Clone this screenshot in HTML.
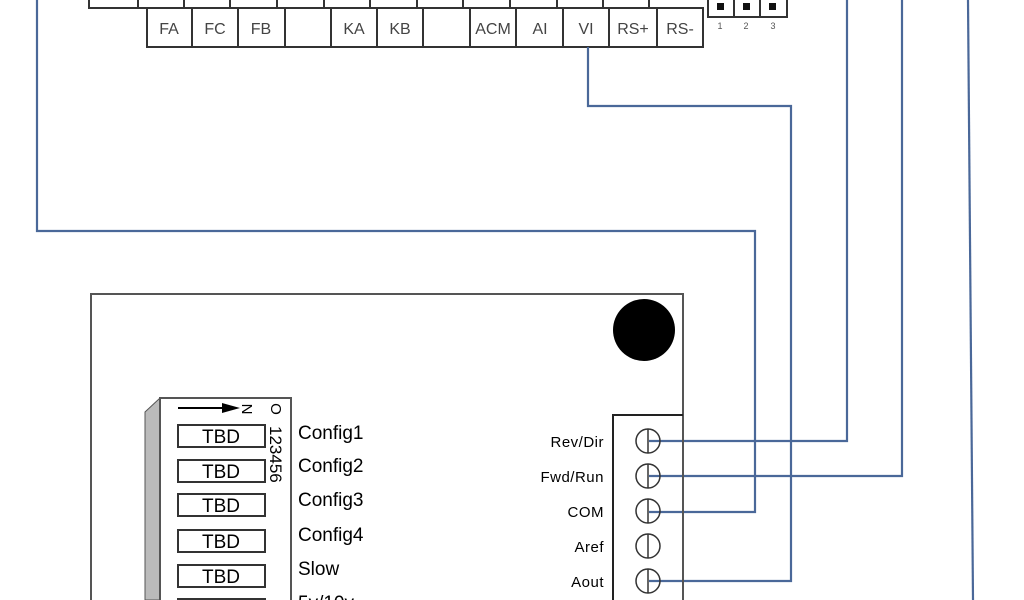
<!DOCTYPE html>
<html><head><meta charset="utf-8"><style>
html,body{margin:0;padding:0;background:#fff;overflow:hidden}
svg{display:block}
text{font-family:"Liberation Sans",sans-serif}
</style></head><body>
<svg width="1024" height="600" viewBox="0 0 1024 600" xmlns="http://www.w3.org/2000/svg">
<rect width="1024" height="600" fill="#fff"/>
<!-- top upper row -->
<g stroke="#333" stroke-width="2" fill="none">
<path d="M89 -2 V8 H649 V-2"/>
<path d="M138 0V8M184 0V8M230 0V8M277 0V8M324 0V8M370 0V8M417 0V8M463 0V8M510 0V8M557 0V8M603 0V8"/>
<rect x="147" y="8" width="556" height="39"/>
<path d="M192 8V47M238 8V47M285 8V47M331 8V47M377 8V47M423 8V47M470 8V47M516 8V47M563 8V47M609 8V47M657 8V47"/>
<!-- jumper -->
<path d="M708 -2V17H787V-2M734 0V17M760 0V17"/>
</g>
<g fill="#111"><rect x="717" y="3" width="7" height="7"/><rect x="743" y="3" width="7" height="7"/><rect x="769" y="3" width="7" height="7"/></g>
<g font-size="9" fill="#555" text-anchor="middle"><text x="720" y="29">1</text><text x="746" y="29">2</text><text x="773" y="29">3</text></g>
<g font-size="16" fill="#444" text-anchor="middle">
<text x="169" y="34">FA</text><text x="215" y="34">FC</text><text x="261" y="34">FB</text>
<text x="354" y="34">KA</text><text x="400" y="34">KB</text><text x="493" y="34">ACM</text>
<text x="540" y="34">AI</text><text x="586" y="34">VI</text><text x="633" y="34">RS+</text><text x="680" y="34">RS-</text>
</g>
<!-- wires -->
<g stroke="#4a6899" stroke-width="2.2" fill="none">
<path d="M37 0V231H755V512H649"/>
<path d="M588 47V106H791V581H649"/>
<path d="M847 0V441H649"/>
<path d="M902 0V476H649"/>
<path d="M968 0L973 600"/>
</g>
<!-- board -->
<path d="M91 600V294H683V600" stroke="#555" stroke-width="2" fill="none"/>
<circle cx="644" cy="330" r="31" fill="#000"/>
<!-- dip switch -->
<path d="M145 412L160 398V600H145Z" fill="#bbb" stroke="#555" stroke-width="1"/>
<rect x="160" y="398" width="131" height="210" fill="#fff" stroke="#555" stroke-width="2"/>
<path d="M178 408H225" stroke="#000" stroke-width="2"/>
<path d="M222 403L240 408L222 413Z" fill="#000"/>
<text x="248" y="415" font-size="15" transform="rotate(90 248 409)" text-anchor="middle">N</text>
<text x="277" y="415" font-size="15" transform="rotate(90 277 409)" text-anchor="middle">O</text>
<text x="270" y="426" font-size="17" transform="rotate(90 270 426)">123456</text>
<g fill="#fff" stroke="#333" stroke-width="2">
<rect x="178" y="425" width="87" height="22"/><rect x="178" y="460" width="87" height="22"/>
<rect x="178" y="494" width="87" height="22"/><rect x="178" y="530" width="87" height="22"/>
<rect x="178" y="565" width="87" height="22"/><rect x="178" y="599" width="87" height="22"/>
</g>
<g font-size="19" text-anchor="middle" fill="#000">
<text x="221" y="443">TBD</text><text x="221" y="478">TBD</text><text x="221" y="512">TBD</text>
<text x="221" y="548">TBD</text><text x="221" y="583">TBD</text>
</g>
<g font-size="19" fill="#000">
<text x="298" y="439">Config1</text><text x="298" y="472">Config2</text><text x="298" y="506">Config3</text>
<text x="298" y="541">Config4</text><text x="298" y="575">Slow</text><text x="298" y="609">5v/10v</text>
</g>
<!-- terminal block -->
<path d="M613 600V415H683" stroke="#222" stroke-width="2" fill="none"/>
<g fill="none" stroke="#333" stroke-width="1.5">
<circle cx="648" cy="441" r="12"/><circle cx="648" cy="476" r="12"/><circle cx="648" cy="511" r="12"/>
<circle cx="648" cy="546" r="12"/><circle cx="648" cy="581" r="12"/>
<path d="M648 429V453M648 464V488M648 499V523M648 534V558M648 569V593"/>
</g>
<g font-size="15" text-anchor="end" fill="#000" letter-spacing="0.5">
<text x="604" y="447">Rev/Dir</text><text x="604" y="482">Fwd/Run</text><text x="604" y="517">COM</text>
<text x="604" y="552">Aref</text><text x="604" y="587">Aout</text>
</g>
</svg>
</body></html>
